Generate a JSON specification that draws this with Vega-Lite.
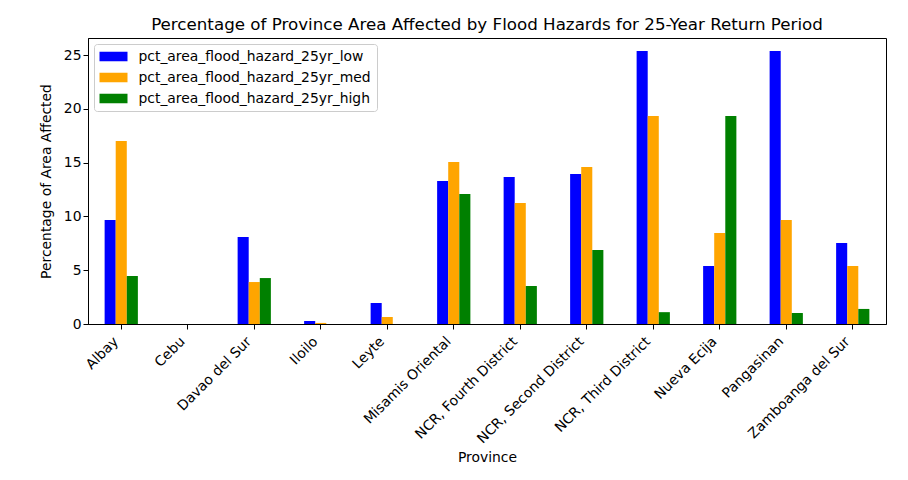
{
  "$schema": "https://vega.github.io/schema/vega-lite/v6.json",
  "autosize": "none",
  "width": 798,
  "height": 286,
  "padding": {"left": 88, "top": 38, "right": 22, "bottom": 156},
  "background": "white",
  "title": {"text": "Percentage of Province Area Affected by Flood Hazards for 25-Year Return Period", "font": "DejaVu Sans", "fontSize": 16.7, "fontWeight": "normal", "color": "black", "offset": 4, "anchor": "middle"},
  "data": {"values": [
    {"province": "Albay", "level": "pct_area_flood_hazard_25yr_low", "value": 9.67},
    {"province": "Albay", "level": "pct_area_flood_hazard_25yr_med", "value": 17.0},
    {"province": "Albay", "level": "pct_area_flood_hazard_25yr_high", "value": 4.46},
    {"province": "Cebu", "level": "pct_area_flood_hazard_25yr_low", "value": 0},
    {"province": "Cebu", "level": "pct_area_flood_hazard_25yr_med", "value": 0},
    {"province": "Cebu", "level": "pct_area_flood_hazard_25yr_high", "value": 0},
    {"province": "Davao del Sur", "level": "pct_area_flood_hazard_25yr_low", "value": 8.09},
    {"province": "Davao del Sur", "level": "pct_area_flood_hazard_25yr_med", "value": 3.9},
    {"province": "Davao del Sur", "level": "pct_area_flood_hazard_25yr_high", "value": 4.27},
    {"province": "Iloilo", "level": "pct_area_flood_hazard_25yr_low", "value": 0.28},
    {"province": "Iloilo", "level": "pct_area_flood_hazard_25yr_med", "value": 0.1},
    {"province": "Iloilo", "level": "pct_area_flood_hazard_25yr_high", "value": 0},
    {"province": "Leyte", "level": "pct_area_flood_hazard_25yr_low", "value": 1.95},
    {"province": "Leyte", "level": "pct_area_flood_hazard_25yr_med", "value": 0.65},
    {"province": "Leyte", "level": "pct_area_flood_hazard_25yr_high", "value": 0},
    {"province": "Misamis Oriental", "level": "pct_area_flood_hazard_25yr_low", "value": 13.29},
    {"province": "Misamis Oriental", "level": "pct_area_flood_hazard_25yr_med", "value": 15.06},
    {"province": "Misamis Oriental", "level": "pct_area_flood_hazard_25yr_high", "value": 12.08},
    {"province": "NCR, Fourth District", "level": "pct_area_flood_hazard_25yr_low", "value": 13.66},
    {"province": "NCR, Fourth District", "level": "pct_area_flood_hazard_25yr_med", "value": 11.25},
    {"province": "NCR, Fourth District", "level": "pct_area_flood_hazard_25yr_high", "value": 3.53},
    {"province": "NCR, Second District", "level": "pct_area_flood_hazard_25yr_low", "value": 13.94},
    {"province": "NCR, Second District", "level": "pct_area_flood_hazard_25yr_med", "value": 14.59},
    {"province": "NCR, Second District", "level": "pct_area_flood_hazard_25yr_high", "value": 6.88},
    {"province": "NCR, Third District", "level": "pct_area_flood_hazard_25yr_low", "value": 25.37},
    {"province": "NCR, Third District", "level": "pct_area_flood_hazard_25yr_med", "value": 19.33},
    {"province": "NCR, Third District", "level": "pct_area_flood_hazard_25yr_high", "value": 1.1},
    {"province": "Nueva Ecija", "level": "pct_area_flood_hazard_25yr_low", "value": 5.39},
    {"province": "Nueva Ecija", "level": "pct_area_flood_hazard_25yr_med", "value": 8.46},
    {"province": "Nueva Ecija", "level": "pct_area_flood_hazard_25yr_high", "value": 19.33},
    {"province": "Pangasinan", "level": "pct_area_flood_hazard_25yr_low", "value": 25.37},
    {"province": "Pangasinan", "level": "pct_area_flood_hazard_25yr_med", "value": 9.67},
    {"province": "Pangasinan", "level": "pct_area_flood_hazard_25yr_high", "value": 1.02},
    {"province": "Zamboanga del Sur", "level": "pct_area_flood_hazard_25yr_low", "value": 7.53},
    {"province": "Zamboanga del Sur", "level": "pct_area_flood_hazard_25yr_med", "value": 5.39},
    {"province": "Zamboanga del Sur", "level": "pct_area_flood_hazard_25yr_high", "value": 1.4}
  ]},
  "mark": {"type": "bar"},
  "encoding": {
    "x": {"field": "province", "type": "nominal", "sort": null,
      "scale": {"paddingInner": 0.5, "paddingOuter": 0.25},
      "title": "Province",
      "axis": {"labelAngle": -45, "labelAlign": "right", "labelBaseline": "bottom", "labelPadding": 15, "titleY": 137, "titleBaseline": "alphabetic"}},
    "xOffset": {"field": "level", "type": "nominal",
      "scale": {"domain": ["pct_area_flood_hazard_25yr_low", "pct_area_flood_hazard_25yr_med", "pct_area_flood_hazard_25yr_high"], "paddingInner": 0, "paddingOuter": 0}},
    "y": {"field": "value", "type": "quantitative",
      "scale": {"domain": [0, 26.58], "nice": false, "zero": true},
      "title": "Percentage of Area Affected",
      "axis": {"values": [0, 5, 10, 15, 20, 25], "titlePadding": 10}},
    "color": {"field": "level", "type": "nominal",
      "scale": {"domain": ["pct_area_flood_hazard_25yr_low", "pct_area_flood_hazard_25yr_med", "pct_area_flood_hazard_25yr_high"], "range": ["#0000ff", "#ffa500", "#008000"]},
      "legend": {"title": null, "orient": "top-left", "offset": 6, "symbolType": "M-1,-0.68H3V0.68H-1Z", "symbolSize": 196, "symbolStrokeWidth": 0, "labelFontSize": 13.9, "labelFont": "DejaVu Sans", "labelColor": "black", "labelLimit": 0, "rowPadding": 7, "padding": 5.5, "fillColor": "white", "strokeColor": "#cccccc", "cornerRadius": 3, "labelOffset": 25}}
  },
  "config": {
    "view": {"stroke": "black", "strokeWidth": 1},
    "axis": {"grid": false, "domainColor": "black", "tickColor": "black", "tickSize": 5, "labelFont": "DejaVu Sans", "labelFontSize": 13.9, "labelColor": "black", "titleFont": "DejaVu Sans", "titleFontSize": 13.9, "titleFontWeight": "normal", "titleColor": "black"}
  }
}
